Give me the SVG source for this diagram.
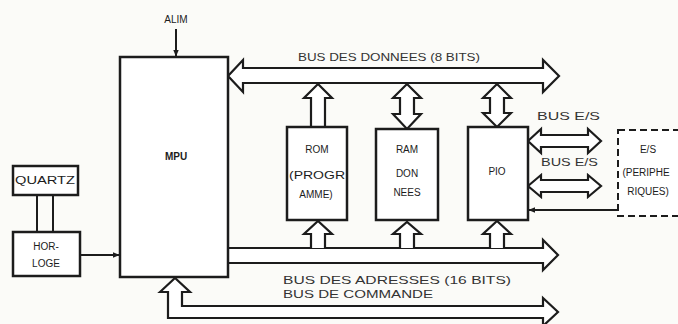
<svg xmlns="http://www.w3.org/2000/svg" width="678" height="324" viewBox="0 0 678 324">
<defs>
<style>
.b{fill:#fff;stroke:#1c1c1c;stroke-width:2.5;stroke-linejoin:miter}
.h{fill:#fff;stroke:#1c1c1c;stroke-width:2.2;stroke-linejoin:miter}
.l{fill:none;stroke:#1c1c1c;stroke-width:2}
.d{fill:#fff;stroke:#1c1c1c;stroke-width:2;stroke-dasharray:7 4}
.t{font-family:"Liberation Sans",Arial,sans-serif;font-size:10px;fill:#1c1c1c;text-anchor:middle;dominant-baseline:middle}
.s{font-family:"Liberation Sans",Arial,sans-serif;font-size:10.5px;fill:#333;dominant-baseline:middle}
</style>
<marker id="ah" viewBox="0 0 10 10" refX="9" refY="5" markerWidth="7" markerHeight="7" markerUnits="userSpaceOnUse" orient="auto">
<path d="M0,1 L10,5 L0,9 Z" fill="#1c1c1c"/>
</marker>
</defs>
<rect width="678" height="324" fill="#fbfbf8"/>

<g id="connectors">
<path class="l" d="M176,29 L176,56" marker-end="url(#ah)"/>
<path class="l" d="M80,255 L119,255" marker-end="url(#ah)"/>
<path class="l" d="M37,195 L37,232 M53,195 L53,232"/>
<path class="l" d="M618,210 L529,210" marker-end="url(#ah)"/>
<path class="h" d="M228,76 L243,60 L243,68 L543,68 L543,60 L559,76 L543,92 L543,83 L243,83 L243,92 Z"/>
<path class="h" d="M318,84 L332,98 L325,98 L325,127 L311,127 L311,98 L304,98 Z"/>
<path class="h" d="M407,84 L421,98 L414,98 L414,114 L421,114 L407,129 L393,114 L400,114 L400,98 L393,98 Z"/>
<path class="h" d="M497,84 L511,98 L504,98 L504,113 L511,113 L497,127 L483,113 L490,113 L490,98 L483,98 Z"/>
<path class="h" d="M228,248 L543,248 L543,240 L558,255 L543,270 L543,263 L228,263"/>
<path class="h" d="M311,248 L311,234 L304,234 L318,221 L332,234 L325,234 L325,248"/>
<path class="h" d="M400,248 L400,234 L393,234 L407,222 L421,234 L414,234 L414,248"/>
<path class="h" d="M490,248 L490,234 L483,234 L497,221 L511,234 L504,234 L504,248"/>
<path class="h" d="M160,292 L175,278 L190,292 L182,292 L182,306 L543,306 L543,298 L558,312 L543,326 L543,318 L168,318 L168,292 Z"/>
<path class="h" d="M528,141 L541,129 L541,135 L588,135 L588,129 L601,141 L588,153 L588,147 L541,147 L541,153 Z"/>
<path class="h" d="M528,186 L541,175 L541,180 L588,180 L588,175 L601,186 L588,197 L588,192 L541,192 L541,197 Z"/>
<text class="s" x="298" y="58" textLength="182" lengthAdjust="spacingAndGlyphs">BUS DES DONNEES (8 BITS)</text>
<text class="s" x="283" y="281" textLength="228" lengthAdjust="spacingAndGlyphs">BUS DES ADRESSES (16 BITS)</text>
<text class="s" x="283" y="295" textLength="150" lengthAdjust="spacingAndGlyphs">BUS DE COMMANDE</text>
<text class="s" x="537" y="117" textLength="63" lengthAdjust="spacingAndGlyphs">BUS E/S</text>
<text class="s" x="541" y="163" textLength="57" lengthAdjust="spacingAndGlyphs">BUS E/S</text>
<text class="t" x="176" y="20" font-size="9">ALIM</text>
</g>

<g id="mpu">
<rect class="b" x="120" y="57" width="108" height="220"/>
<text class="t" x="176" y="157" font-weight="bold" font-size="9">MPU</text>
</g>

<g id="quartz">
<rect class="b" x="13" y="166" width="65" height="29"/>
<text class="t" x="45" y="181" font-size="11" textLength="60" lengthAdjust="spacingAndGlyphs">QUARTZ</text>
</g>

<g id="horloge">
<rect class="b" x="13" y="232" width="67" height="44"/>
<text class="t" x="46" y="247">HOR-</text>
<text class="t" x="46" y="264">LOGE</text>
</g>

<g id="rom">
<rect class="b" x="287" y="127" width="60" height="93"/>
<text class="t" x="317" y="150">ROM</text>
<text class="t" x="317" y="176" textLength="56" lengthAdjust="spacingAndGlyphs">(PROGR</text>
<text class="t" x="316" y="195">AMME)</text>
</g>

<g id="ram">
<rect class="b" x="376" y="129" width="62" height="91"/>
<text class="t" x="407" y="150">RAM</text>
<text class="t" x="407" y="174">DON</text>
<text class="t" x="407" y="193">NEES</text>
</g>

<g id="pio">
<rect class="b" x="468" y="127" width="60" height="93"/>
<text class="t" x="497" y="172" font-size="11">PIO</text>
</g>

<g id="es">
<rect class="d" x="618" y="130" width="70" height="86"/>
<text class="t" x="648" y="150" font-size="11">E/S</text>
<text class="t" x="646" y="173" font-size="9.5">(PERIPHE</text>
<text class="t" x="648" y="192" font-size="9.5">RIQUES)</text>
</g>
</svg>
